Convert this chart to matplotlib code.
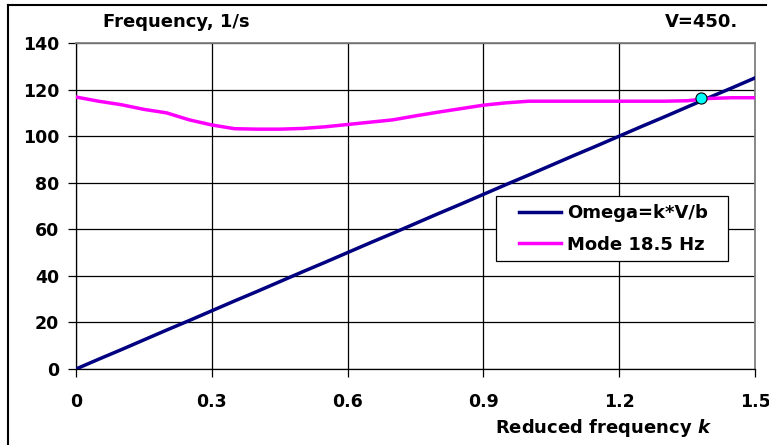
import matplotlib
matplotlib.use("Agg")
import matplotlib.pyplot as plt
import matplotlib.ticker as mticker
from matplotlib.patches import Rectangle
from matplotlib.lines import Line2D

# reduced frequency samples
k = [0.0, 0.05, 0.1, 0.15, 0.2, 0.25, 0.3, 0.35, 0.4, 0.45, 0.5,
     0.55, 0.6, 0.65, 0.7, 0.75, 0.8, 0.85, 0.9, 0.95, 1.0,
     1.05, 1.1, 1.15, 1.2, 1.25, 1.3, 1.35, 1.4, 1.45, 1.5]

# Omega = k*V/b (V=450)
omega = [0.0, 4.2, 8.3, 12.5, 16.7, 20.8, 25.0, 29.2, 33.3, 37.5, 41.7,
         45.8, 50.0, 54.2, 58.3, 62.5, 66.7, 70.8, 75.0, 79.2, 83.3,
         87.5, 91.7, 95.8, 100.0, 104.2, 108.3, 112.5, 116.7, 120.8, 125.0]

# structural mode frequency, 18.5 Hz branch
mode = [116.8, 115.0, 113.5, 111.5, 110.0, 107.0, 104.8, 103.2, 103.0, 103.0, 103.3,
        104.0, 105.0, 106.0, 107.0, 108.7, 110.3, 111.8, 113.3, 114.3, 115.0,
        115.0, 115.0, 115.0, 115.0, 115.0, 115.0, 115.2, 116.2, 116.5, 116.5]

# flutter crossing point
cross_k = [1.38]
cross_f = [116.2]

xticks = [0, 0.3, 0.6, 0.9, 1.2, 1.5]
xtick_labels = ["0", "0.3", "0.6", "0.9", "1.2", "1.5"]
yticks = [0, 20, 40, 60, 80, 100, 120, 140]

W, H = 769, 445

plt.rcParams["font.family"] = "DejaVu Sans"
plt.rcParams["font.weight"] = "bold"
plt.rcParams["mathtext.fontset"] = "custom"
plt.rcParams["mathtext.it"] = "DejaVu Sans:italic:bold"
plt.rcParams["mathtext.rm"] = "DejaVu Sans:bold"

fig = plt.figure(figsize=(W / 100, H / 100), dpi=100)
ax = fig.add_axes([76 / W, 1 - 369 / H, 679 / W, 326 / H])

ax.plot(k, omega, color="#000080", lw=2.5, solid_joinstyle="round", zorder=3)
ax.plot(k, mode, color="#FF00FF", lw=2.5, solid_joinstyle="round", zorder=3)
ax.plot(cross_k, cross_f, "o", ms=8, mfc="#00FFFF", mec="black", mew=0.8,
        zorder=4, clip_on=False)

ax.set_xlim(0, 1.5)
ax.set_ylim(0, 140)
ax.set_xticks(xticks)
ax.set_xticklabels(xtick_labels)
ax.set_yticks(yticks)
ax.yaxis.set_major_formatter(mticker.FormatStrFormatter("%d"))
ax.grid(True, color="black", lw=0.9)
ax.set_axisbelow(True)

ax.tick_params(axis="both", direction="out", length=6, width=0.9,
               labelsize=12.5, color="black")
ax.tick_params(axis="y", pad=6)
ax.tick_params(axis="x", pad=11)
for lbl in ax.get_xticklabels() + ax.get_yticklabels():
    lbl.set_fontweight("bold")

for side in ("left", "bottom"):
    ax.spines[side].set_color("black")
    ax.spines[side].set_linewidth(0.9)
for side in ("top", "right"):
    ax.spines[side].set_color("#808080")
    ax.spines[side].set_linewidth(1.3)

# chart area frame (only top and left edges show)
fig.add_artist(Line2D([8 / W, 766 / W], [1 - 5 / H, 1 - 5 / H],
                      transform=fig.transFigure, color="black", lw=1.5))
fig.add_artist(Line2D([8 / W, 8 / W], [1 - 5 / H, 0],
                      transform=fig.transFigure, color="black", lw=1.5))

fig.text(103 / W, 1 - 22 / H, "Frequency, 1/s", fontsize=13,
         fontweight="bold", ha="left", va="center")
fig.text(738 / W, 1 - 22 / H, "V=450.", fontsize=13,
         fontweight="bold", ha="right", va="center")
fig.text(603 / W, 1 - 428 / H, r"Reduced frequency $k$", fontsize=13,
         fontweight="bold", ha="center", va="center")

# legend with a hand-drawn frame
fig.add_artist(Rectangle((496 / W, 1 - 261 / H), 232 / W, 65 / H,
                         transform=fig.transFigure, fill=True,
                         facecolor="white", edgecolor="black", lw=0.9,
                         zorder=5))
handles = [Line2D([], [], color="#000080", lw=2.5),
           Line2D([], [], color="#FF00FF", lw=2.5)]
leg = fig.legend(handles, ["Omega=k*V/b", "Mode 18.5 Hz"],
                 loc="center left", bbox_to_anchor=(505 / W, 1 - 229 / H),
                 bbox_transform=fig.transFigure, frameon=False,
                 prop={"size": 13, "weight": "bold"},
                 handlelength=2.3, handletextpad=0.35, labelspacing=0.75,
                 borderpad=0.3)
leg.set_zorder(6)

fig.savefig("out.png", dpi=100)
